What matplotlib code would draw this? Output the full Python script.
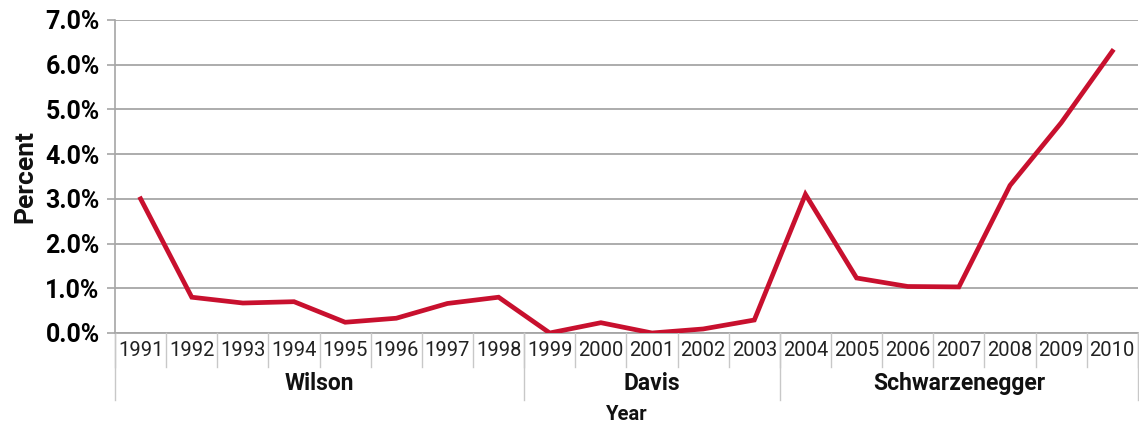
import matplotlib
matplotlib.use('Agg')
from matplotlib import pyplot as plt
from matplotlib import transforms
from matplotlib.ticker import FuncFormatter

plt.rcParams['font.family'] = ['Roboto', 'DejaVu Sans']

# dati
years = ['1991', '1992', '1993', '1994', '1995', '1996', '1997', '1998', '1999', '2000',
         '2001', '2002', '2003', '2004', '2005', '2006', '2007', '2008', '2009', '2010']
percent = [3.0, 0.8, 0.67, 0.7, 0.24, 0.33, 0.66, 0.8, 0.0, 0.23,
           0.0, 0.09, 0.29, 3.1, 1.23, 1.04, 1.03, 3.3, 4.7, 6.3]
governors = ['Wilson', 'Davis', 'Schwarzenegger']
gov_counts = [8, 5, 7]

red = '#c8102e'
grid_col = '#a6a6a6'

fig = plt.figure(figsize=(11.39, 4.25), dpi=100)
ax = fig.add_axes([0.101, 0.2165, 0.898, 0.7365])

x = list(range(len(years)))
ax.plot(x, percent, color=red, lw=3.4, solid_joinstyle='miter', zorder=3)

ax.set_xlim(-0.5, len(years) - 0.5)
ax.set_ylim(0, 7)
ax.set_yticks(range(0, 8))
ax.yaxis.set_major_formatter(FuncFormatter(lambda v, p: '{:.1f}%'.format(v)))
ax.grid(axis='y', color=grid_col, lw=1.3)
ax.set_axisbelow(True)
for t in ax.get_yticklabels():
    t.set_fontweight('bold')
ax.tick_params(axis='y', length=6, width=1.2, color=grid_col, labelsize=18, pad=5)
ax.set_xticks([])

for s in ['top', 'right', 'bottom']:
    ax.spines[s].set_visible(False)
ax.spines['left'].set_color(grid_col)
ax.spines['left'].set_linewidth(1.2)
ax.spines['left'].set_bounds(0, 7)

trans = transforms.blended_transform_factory(ax.transData, ax.transAxes)

# linea di base e separatori degli anni
ax.plot([-0.5, len(years) - 0.5], [0, 0], transform=trans, color=grid_col, lw=1.3, clip_on=False)
for i in range(len(years) + 1):
    ax.plot([i - 0.5, i - 0.5], [0, -0.109], transform=trans, color='#c8c8c8', lw=1.0, clip_on=False)
for i, yr in enumerate(years):
    ax.text(i, -0.056, yr, transform=trans, ha='center', va='center', fontsize=14.5, color='#222222')

# gruppi dei governatori
start = 0
bounds = [start]
for name, n in zip(governors, gov_counts):
    mid = start + (n - 1) / 2.0
    ax.text(mid, -0.162, name, transform=trans, ha='center', va='center',
            fontsize=16.5, fontweight='bold', color='#111111')
    start += n
    bounds.append(start)
for b in bounds:
    ax.plot([b - 0.5, b - 0.5], [0, -0.214], transform=trans, color='#c8c8c8', lw=1.0, clip_on=False)

ax.text(9.5, -0.26, 'Year', transform=trans, ha='center', va='center',
        fontsize=14.5, fontweight='bold', color='#111111')
fig.text(0.022, 0.216 + 0.7365 / 2, 'Percent', rotation=90, ha='center', va='center',
         fontsize=19, fontweight='bold', color='#111111')

fig.savefig('out.png', dpi=100)
